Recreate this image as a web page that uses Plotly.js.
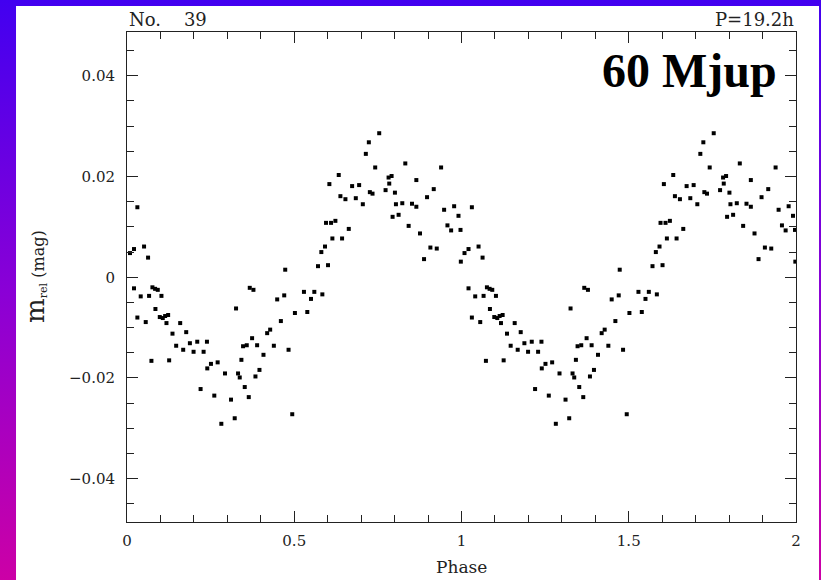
<!DOCTYPE html>
<html>
<head>
<meta charset="utf-8">
<script src="https://cdn.plot.ly/plotly-3.0.1.min.js"></script>
<style>
  html, body { margin: 0; padding: 0; }
  body {
    width: 821px; height: 580px; overflow: hidden;
    background: linear-gradient(to bottom, #4200f0 0%, #8a00d6 50%, #cc00a6 100%);
  }
  #chart { width: 821px; height: 580px; }
</style>
</head>
<body>
<div id="chart"></div>
<script>
// Folded light curve of object No. 39 (period 19.2 h): relative magnitude vs. phase
const phase = [
  0.009, 0.021, 0.031, 0.051, 0.063, 0.021, 0.041, 0.066, 0.076, 0.084,
  0.092, 0.103, 0.031, 0.056, 0.085, 0.098, 0.107, 0.114, 0.123, 0.118,
  0.073, 0.126, 0.136, 0.159, 0.147, 0.168, 0.177, 0.188, 0.199, 0.210,
  0.229, 0.239, 0.240, 0.251, 0.271, 0.220, 0.261, 0.293, 0.282, 0.311,
  0.322, 0.332, 0.337, 0.352, 0.364, 0.326, 0.342, 0.347, 0.358, 0.374,
  0.367, 0.378, 0.384, 0.396, 0.389, 0.408, 0.419, 0.428, 0.439, 0.460,
  0.449, 0.470, 0.473, 0.483, 0.502, 0.494, 0.529, 0.560, 0.550, 0.584,
  0.539, 0.571, 0.601, 0.581, 0.592, 0.614, 0.643, 0.663, 0.595, 0.610,
  0.623, 0.638, 0.653, 0.605, 0.633, 0.673, 0.694, 0.684, 0.705, 0.714,
  0.723, 0.754, 0.742, 0.726, 0.734, 0.773, 0.782, 0.791, 0.784, 0.801,
  0.804, 0.823, 0.794, 0.812, 0.832, 0.865, 0.852, 0.865, 0.842, 0.876,
  0.897, 0.917, 0.939, 0.907, 0.926, 0.888, 0.948, 0.978, 0.958, 0.969,
  0.991, 0.997, 0.998
];
const mrel = [
  0.0048, 0.0056, 0.0139, 0.0061, 0.0039, -0.0022, -0.0038, -0.0037, -0.0020, -0.0023,
  -0.0025, -0.0037, -0.0080, -0.0089, -0.0063, -0.0079, -0.0081, -0.0077, -0.0075, -0.0091,
  -0.0166, -0.0165, -0.0112, -0.0091, -0.0136, -0.0144, -0.0109, -0.0131, -0.0148, -0.0128,
  -0.0148, -0.0128, -0.0181, -0.0172, -0.0169, -0.0222, -0.0235, -0.0191, -0.0291, -0.0243,
  -0.0280, -0.0191, -0.0199, -0.0218, -0.0238, -0.0062, -0.0164, -0.0137, -0.0135, -0.0121,
  -0.0021, -0.0025, -0.0197, -0.0184, -0.0135, -0.0154, -0.0111, -0.0104, -0.0136, -0.0087,
  -0.0044, -0.0036, 0.0015, -0.0144, -0.0071, -0.0272, -0.0029, -0.0029, -0.0043, -0.0034,
  -0.0069, 0.0022, 0.0024, 0.0050, 0.0061, 0.0077, 0.0077, 0.0096, 0.0108, 0.0108,
  0.0112, 0.0161, 0.0155, 0.0185, 0.0203, 0.0181, 0.0183, 0.0157, 0.0145, 0.0245,
  0.0268, 0.0286, 0.0218, 0.0169, 0.0166, 0.0173, 0.0198, 0.0201, 0.0186, 0.0168,
  0.0145, 0.0147, 0.0120, 0.0124, 0.0226, 0.0193, 0.0146, 0.0140, 0.0102, 0.0087,
  0.0159, 0.0175, 0.0218, 0.0059, 0.0057, 0.0036, 0.0134, 0.0141, 0.0103, 0.0093,
  0.0122, 0.0094, 0.0031
];
const xTicks = [0, 0.5, 1, 1.5, 2];
const xTickText = ['0', '0.5', '1', '1.5', '2'];
const yTicks = [-0.04, -0.02, 0, 0.02, 0.04];
const yTickText = ['\u22120.04', '\u22120.02', '0', '0.02', '0.04'];

// the cycle is shown twice, over phase 0–2
const xs = phase.concat(phase.map(p => p + 1));
const ys = mrel.concat(mrel);

const AX = '#222';
const labelFont = { family: 'DejaVu Serif', size: 15, color: '#222' };

const trace = {
  type: 'scatter', mode: 'markers', x: xs, y: ys,
  marker: { symbol: 'square', size: 4, color: '#000', line: { width: 0 } },
  hoverinfo: 'skip', showlegend: false
};

const axisCommon = {
  showgrid: false, zeroline: false, showline: true, linecolor: AX, linewidth: 1,
  mirror: 'ticks', ticks: 'inside', ticklen: 11, tickwidth: 1, tickcolor: AX,
  tickmode: 'array', tickfont: labelFont, fixedrange: true
};

const layout = {
  width: 821, height: 580,
  margin: { l: 127, r: 25, t: 32, b: 58, pad: 0 },
  paper_bgcolor: 'rgba(0,0,0,0)', plot_bgcolor: '#fff',
  xaxis: Object.assign({}, axisCommon, {
    range: [0, 2], tickvals: xTicks, ticktext: xTickText, ticklabelstandoff: 5,
    minor: { tickmode: 'linear', tick0: 0, dtick: 0.1, ticks: 'inside', ticklen: 7, tickwidth: 1, tickcolor: AX, showgrid: false }
  }),
  yaxis: Object.assign({}, axisCommon, {
    range: [-0.0486, 0.0487], tickvals: yTicks, ticktext: yTickText, ticklabelstandoff: 8,
    minor: { tickmode: 'linear', tick0: 0, dtick: 0.005, ticks: 'inside', ticklen: 7, tickwidth: 1, tickcolor: AX, showgrid: false }
  }),
  shapes: [{
    type: 'rect', xref: 'paper', yref: 'paper', layer: 'below',
    x0: -0.1659, x1: 1.0344, y0: -0.1184, y1: 1.0531,
    fillcolor: '#fff', line: { width: 0 }
  }],
  annotations: [
    { xref: 'paper', yref: 'paper', x: 0, y: 1, xanchor: 'left', yanchor: 'bottom', showarrow: false,
      text: 'No.\u00a0\u00a0\u00a0\u00a039', font: { family: 'DejaVu Serif', size: 18, color: '#222' } },
    { xref: 'paper', yref: 'paper', x: 1, y: 1, xanchor: 'right', yanchor: 'bottom', showarrow: false,
      text: 'P=19.2h', font: { family: 'DejaVu Serif', size: 18, color: '#222' } },
    { xref: 'paper', yref: 'paper', x: 0.975, y: 0.921, xanchor: 'right', yanchor: 'middle', showarrow: false,
      text: '<b>60 Mjup</b>', font: { family: 'Liberation Serif', size: 48, color: '#000' } },
    { xref: 'paper', yref: 'paper', x: 0.5, y: -0.092, xanchor: 'center', yanchor: 'middle', showarrow: false,
      text: 'Phase', font: { family: 'DejaVu Serif', size: 17, color: '#222' } },
    { xref: 'paper', yref: 'paper', x: -0.1375, y: 0.5, xanchor: 'center', yanchor: 'middle', showarrow: false,
      textangle: -90,
      text: '<span style="font-size:26px">m</span><sub>rel</sub> (mag)',
      font: { family: 'DejaVu Serif', size: 16, color: '#222' } }
  ]
};

Plotly.newPlot('chart', [trace], layout, { displayModeBar: false, staticPlot: true });
</script>
</body>
</html>
